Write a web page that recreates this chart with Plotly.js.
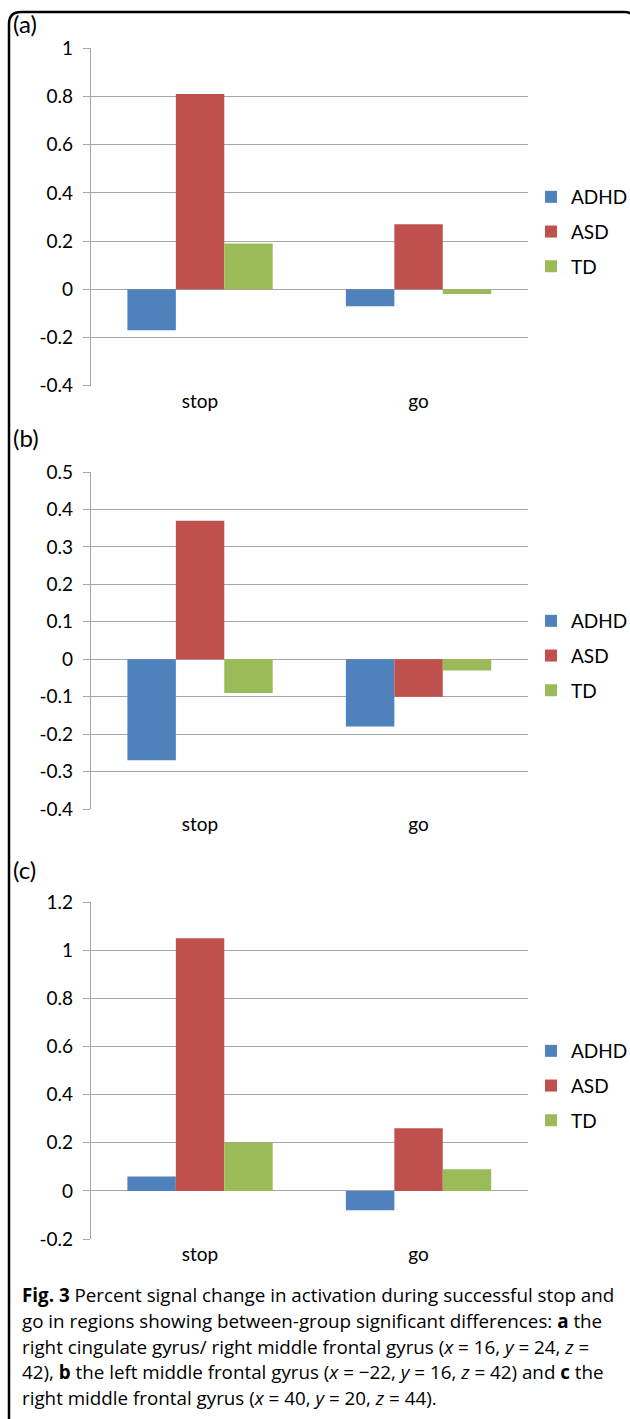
<!DOCTYPE html>
<html><head><meta charset="utf-8">
<script src="https://cdn.plot.ly/plotly-3.0.1.min.js"></script>
<style>html,body{margin:0;padding:0;background:#fff}#chart{width:630px;height:1419px}</style>
</head><body><div id="chart"></div>
<script>
// ---- data ----
const categories = ['stop', 'go'];
const groups = ['ADHD', 'ASD', 'TD'];
const groupColors = ['#4F81BD', '#C0504D', '#9BBB59'];

const panelA_ADHD = [-0.17, -0.07];
const panelA_ASD  = [0.81, 0.27];
const panelA_TD   = [0.19, -0.02];

const panelB_ADHD = [-0.27, -0.18];
const panelB_ASD  = [0.37, -0.10];
const panelB_TD   = [-0.09, -0.03];

const panelC_ADHD = [0.06, -0.08];
const panelC_ASD  = [1.05, 0.26];
const panelC_TD   = [0.20, 0.09];

const panelLabels = ['(a)', '(b)', '(c)'];

const yTickValsA = [-0.4, -0.2, 0, 0.2, 0.4, 0.6, 0.8, 1];
const yTickTextA = ['-0.4', '-0.2', '0', '0.2', '0.4', '0.6', '0.8', '1'];
const yTickValsB = [-0.4, -0.3, -0.2, -0.1, 0, 0.1, 0.2, 0.3, 0.4, 0.5];
const yTickTextB = ['-0.4', '-0.3', '-0.2', '-0.1', '0', '0.1', '0.2', '0.3', '0.4', '0.5'];
const yTickValsC = [-0.2, 0, 0.2, 0.4, 0.6, 0.8, 1, 1.2];
const yTickTextC = ['-0.2', '0', '0.2', '0.4', '0.6', '0.8', '1', '1.2'];

const captionLines = [
  '<b>Fig. 3</b> Percent signal change in activation during successful stop and',
  'go in regions showing between-group significant differences: <b>a</b> the',
  'right cingulate gyrus/ right middle frontal gyrus (<i>x</i> = 16, <i>y</i> = 24, <i>z</i> =',
  '42), <b>b</b> the left middle frontal gyrus (<i>x</i> = \u221222, <i>y</i> = 16, <i>z</i> = 42) and <b>c</b> the',
  'right middle frontal gyrus (<i>x</i> = 40, <i>y</i> = 20, <i>z</i> = 44).'
];

// ---- layout helpers (pixel -> paper) ----
const W = 630, H = 1419;
const px = x => x / W;
const py = y => 1 - y / H;

const panels = [
  { series: [panelA_ADHD, panelA_ASD, panelA_TD], range: [-0.4, 1], tv: yTickValsA, tt: yTickTextA,
    top: 48.3, bottom: 385.7, labelY: 24, legendY: 232 },
  { series: [panelB_ADHD, panelB_ASD, panelB_TD], range: [-0.4, 0.5], tv: yTickValsB, tt: yTickTextB,
    top: 472.0, bottom: 809.0, labelY: 438, legendY: 656 },
  { series: [panelC_ADHD, panelC_ASD, panelC_TD], range: [-0.2, 1.2], tv: yTickValsC, tt: yTickTextC,
    top: 902.3, bottom: 1239.0, labelY: 870, legendY: 1086 }
];

const gridColor = '#A6A6A6';
const tickFont = { family: 'Lato, "Open Sans", sans-serif', size: 19, color: '#000' };
const xDomain = [px(90.8), px(527.8)];

const traces = [];
const layout = {
  width: W, height: H, autosize: false,
  margin: { l: 0, r: 0, t: 0, b: 0, autoexpand: false },
  paper_bgcolor: '#fff', plot_bgcolor: 'rgba(0,0,0,0)',
  barmode: 'group', bargap: 0.335, bargroupgap: 0,
  showlegend: true,
  annotations: [], shapes: []
};

panels.forEach((p, i) => {
  const n = i + 1;
  const xs = n === 1 ? '' : String(n);
  const ys = xs;
  const legendKey = n === 1 ? 'legend' : 'legend' + n;
  groups.forEach((g, k) => {
    traces.push({
      type: 'bar', name: g, x: categories, y: p.series[k],
      xaxis: 'x' + xs, yaxis: 'y' + ys,
      marker: { color: groupColors[k], line: { width: 0 } },
      legend: legendKey, legendgroup: 'p' + n + g,
      hoverinfo: 'skip'
    });
  });
  const dom = [py(p.bottom), py(p.top)];
  layout['yaxis' + ys] = {
    domain: dom, anchor: 'x' + xs, range: p.range,
    tickvals: p.tv, ticktext: p.tt,
    showgrid: true, gridcolor: gridColor, gridwidth: 1,
    zeroline: true, zerolinecolor: gridColor, zerolinewidth: 1,
    showline: true, linecolor: gridColor, linewidth: 1,
    ticks: 'outside', ticklen: 7, tickcolor: gridColor, tickwidth: 1,
    tickfont: tickFont, ticklabelstandoff: 6, fixedrange: true
  };
  layout['xaxis' + xs] = {
    domain: xDomain, anchor: 'y' + ys, type: 'category',
    categoryarray: categories, range: [-0.5, 1.5],
    showgrid: false, zeroline: false, showline: false, ticks: '',
    tickfont: tickFont, ticklabelstandoff: 2, fixedrange: true
  };
  // overlay axis drawing the category boundary tick marks on the zero line
  const zeroPos = dom[0] + (0 - p.range[0]) / (p.range[1] - p.range[0]) * (dom[1] - dom[0]);
  layout['xaxis' + (n + 3)] = {
    overlaying: 'x' + xs, anchor: 'free', position: zeroPos, side: 'bottom',
    domain: xDomain, type: 'linear', range: [-0.5, 1.5],
    tickvals: [0.5, 1.5], ticks: 'outside', ticklen: 8, tickcolor: gridColor, tickwidth: 1,
    showticklabels: false, showgrid: false, zeroline: false, showline: false, fixedrange: true
  };
  layout[legendKey] = {
    x: px(531), xanchor: 'left', y: py(p.legendY), yanchor: 'middle',
    bgcolor: 'rgba(0,0,0,0)', borderwidth: 0,
    font: tickFont, tracegroupgap: 7, itemwidth: 30, traceorder: 'grouped'
  };
  layout.annotations.push({
    text: panelLabels[i], xref: 'paper', yref: 'paper',
    x: px(11), y: py(p.labelY), xanchor: 'left', yanchor: 'middle',
    showarrow: false, font: { family: 'Lato, "Open Sans", sans-serif', size: 24, color: '#000' }
  });
});

captionLines.forEach((t, i) => {
  layout.annotations.push({
    text: t, xref: 'paper', yref: 'paper',
    x: px(20), y: py(1295 + 25.8 * i), xanchor: 'left', yanchor: 'middle', align: 'left',
    showarrow: false, font: { family: '"Open Sans", "Noto Sans", sans-serif', size: 18.8, color: '#000' }
  });
});

// rounded frame around the figure
const frame = `M${px(9)},${py(1432)} L${px(9)},${py(1411)} L${px(9)},${py(24)} Q${px(9)},${py(12)} ${px(21)},${py(12)} L${px(624)},${py(12)} Q${px(636)},${py(12)} ${px(636)},${py(24)} L${px(636)},${py(1432)}`;
layout.shapes.push({
  type: 'path', xref: 'paper', yref: 'paper', path: frame,
  line: { color: '#000', width: 2.5 }, layer: 'above'
});

Plotly.newPlot('chart', traces, layout, { displayModeBar: false, staticPlot: true });
</script>
</body></html>
